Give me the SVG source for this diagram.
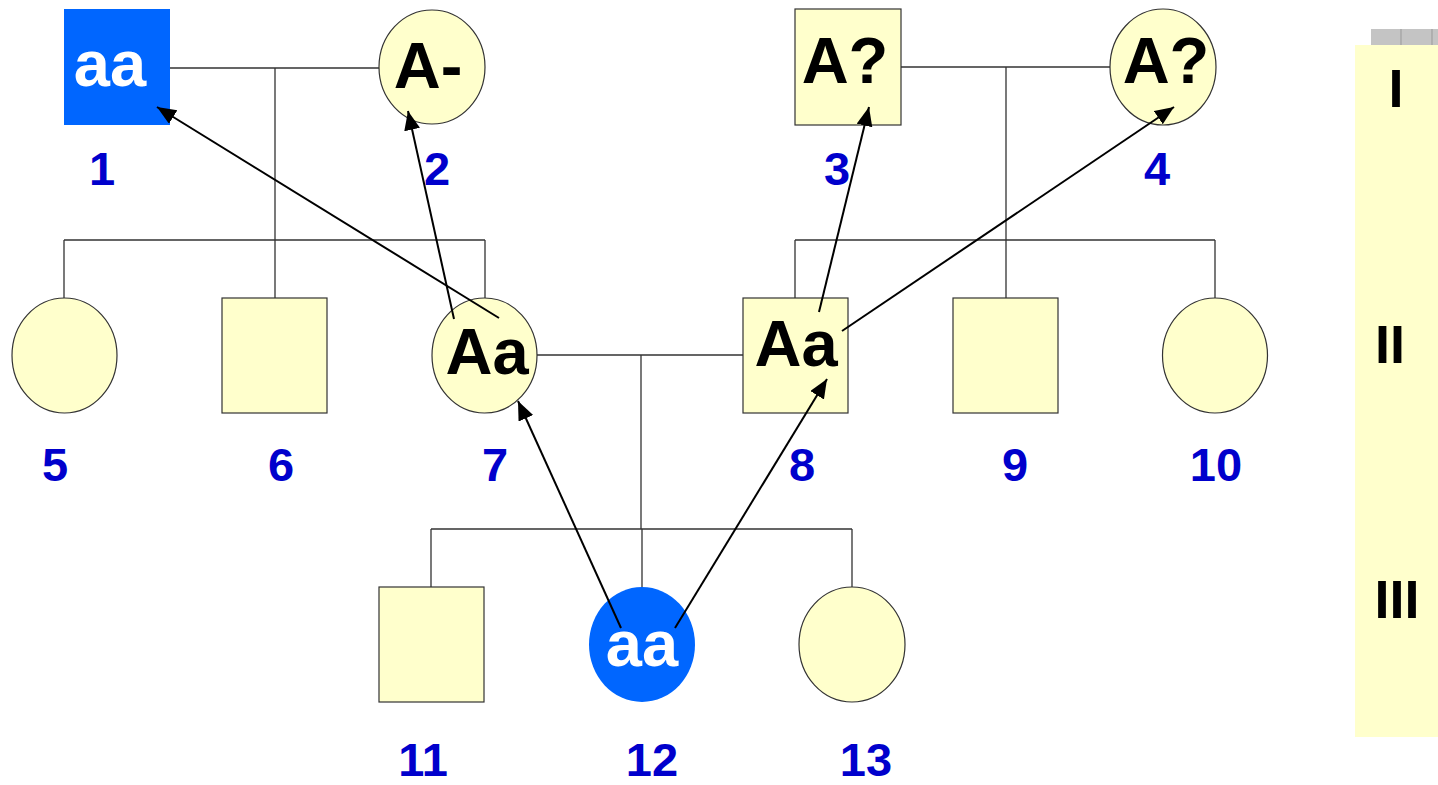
<svg xmlns="http://www.w3.org/2000/svg" width="1438" height="785" viewBox="0 0 1438 785">
<style>
.n{fill:#FFFFCC;stroke:#333;stroke-width:1.2}
.aff{fill:#0066FF;stroke:none}
.g{font-family:"Liberation Sans",Arial,sans-serif;font-weight:bold;font-size:65px;text-anchor:middle;fill:#000}
.gw{fill:#fff}
.lb{font-family:"Liberation Sans",Arial,sans-serif;font-weight:bold;font-size:47px;text-anchor:middle;fill:#0000CC}
.rn{font-family:"Liberation Sans",Arial,sans-serif;font-weight:bold;font-size:54px;text-anchor:middle;fill:#000}
.ln{fill:none;stroke:#333;stroke-width:1.3}
.ar{fill:none;stroke:#000;stroke-width:2;marker-end:url(#ah)}
</style>
<defs>
<marker id="ah" markerUnits="userSpaceOnUse" markerWidth="22" markerHeight="18" refX="19" refY="8" orient="auto">
<path d="M0,0 L19,8 L0,16 Z" fill="#000"/>
</marker>
</defs>
<rect width="1438" height="785" fill="#fff"/>
<g id="generation-bar">
<rect x="1371" y="29" width="67" height="17" fill="#c4c4c4"/>
<line x1="1401" y1="29" x2="1401" y2="46" stroke="#999" stroke-width="1"/>
<line x1="1432" y1="29" x2="1432" y2="46" stroke="#999" stroke-width="1"/>
<rect x="1355" y="45" width="83" height="692" fill="#FFFFCC"/>
<text class="rn" x="1396" y="107">I</text>
<text class="rn" x="1390" y="363">II</text>
<text class="rn" x="1397" y="618">III</text>
</g>
<g id="connectors">
<path class="ln" d="M170,68 H379 M275,68 V240 M64,240 H485 M64,240 V298 M275,240 V298 M485,240 V298"/>
<path class="ln" d="M901,67 H1110 M1006,67 V298 M795,240 H1215 M795,240 V298 M1215,240 V298"/>
<path class="ln" d="M537,355 H743 M641,355 V529 M431,529 H852 M431,529 V587 M642,529 V587 M852,529 V587"/>
</g>
<g id="node-1"><rect class="aff" x="64" y="9" width="106" height="116"/><text class="g gw" x="110" y="86">aa</text><text class="lb" x="102" y="185">1</text></g>
<g id="node-2"><ellipse class="n" cx="432" cy="67" rx="53" ry="57"/><text class="g" x="428" y="88">A-</text><text class="lb" x="437" y="185">2</text></g>
<g id="node-3"><rect class="n" x="795" y="9" width="106" height="116"/><text class="g" x="845" y="83">A?</text><text class="lb" x="837" y="185">3</text></g>
<g id="node-4"><ellipse class="n" cx="1163" cy="67" rx="53" ry="58"/><text class="g" x="1166" y="83">A?</text><text class="lb" x="1157" y="185">4</text></g>
<g id="node-5"><ellipse class="n" cx="64.5" cy="355.5" rx="52.5" ry="57.5"/><text class="lb" x="55" y="481">5</text></g>
<g id="node-6"><rect class="n" x="222" y="298" width="105" height="115"/><text class="lb" x="281" y="481">6</text></g>
<g id="node-7"><ellipse class="n" cx="484.5" cy="355.5" rx="52.5" ry="57.5"/><text class="g" x="487" y="374">Aa</text><text class="lb" x="495" y="481">7</text></g>
<g id="node-8"><rect class="n" x="743" y="298" width="105" height="115"/><text class="g" x="796" y="366">Aa</text><text class="lb" x="802" y="481">8</text></g>
<g id="node-9"><rect class="n" x="953" y="298" width="105" height="115"/><text class="lb" x="1015" y="481">9</text></g>
<g id="node-10"><ellipse class="n" cx="1215" cy="355.5" rx="52.5" ry="57.5"/><text class="lb" x="1216" y="481">10</text></g>
<g id="node-11"><rect class="n" x="379" y="587" width="105" height="115"/><text class="lb" x="423" y="776">11</text></g>
<g id="node-12"><ellipse class="aff" cx="642" cy="644.5" rx="53" ry="57.5"/><text class="g gw" x="642" y="666">aa</text><text class="lb" x="652" y="776">12</text></g>
<g id="node-13"><ellipse class="n" cx="852" cy="644.5" rx="53" ry="57.5"/><text class="lb" x="866" y="776">13</text></g>
<g id="arrows">
<line class="ar" x1="499" y1="318" x2="157" y2="107"/>
<line class="ar" x1="454" y1="319" x2="408" y2="111"/>
<line class="ar" x1="621" y1="628" x2="518" y2="401"/>
<line class="ar" x1="675" y1="628" x2="827" y2="379"/>
<line class="ar" x1="819" y1="312" x2="869" y2="107"/>
<line class="ar" x1="842" y1="331" x2="1174" y2="107"/>
</g>
</svg>
